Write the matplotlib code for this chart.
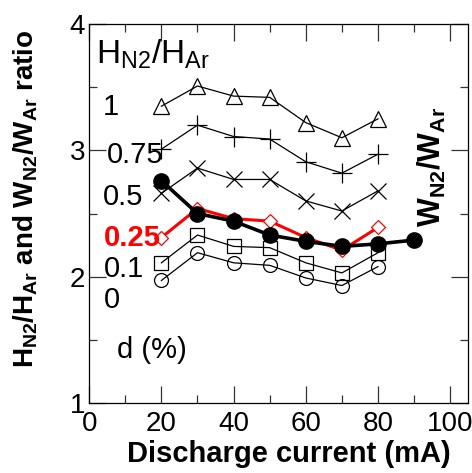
import matplotlib
matplotlib.use("Agg")
import matplotlib.pyplot as plt

plt.rcParams['font.family'] = ['Liberation Sans', 'DejaVu Sans']
plt.rcParams['mathtext.fontset'] = 'custom'
plt.rcParams['mathtext.rm'] = 'Liberation Sans'
plt.rcParams['mathtext.bf'] = 'Liberation Sans:bold'

# discharge current (mA)
current = [20, 30, 40, 50, 60, 70, 80]
current_w = [20, 30, 40, 50, 60, 70, 80, 90]

# H_N2/H_Ar ratio for each d (%)
h_d1 = [3.35, 3.51, 3.43, 3.42, 3.22, 3.10, 3.25]
h_d075 = [3.01, 3.20, 3.11, 3.09, 2.91, 2.82, 2.97]
h_d05 = [2.66, 2.86, 2.77, 2.77, 2.60, 2.52, 2.68]
h_d025 = [2.31, 2.54, 2.46, 2.44, 2.31, 2.21, 2.39]
h_d01 = [2.11, 2.33, 2.24, 2.23, 2.11, 2.03, 2.19]
h_d0 = [1.97, 2.19, 2.11, 2.09, 1.99, 1.93, 2.08]

# W_N2/W_Ar ratio
w_ratio = [2.76, 2.50, 2.44, 2.33, 2.28, 2.24, 2.26, 2.29]

fig = plt.figure(figsize=(4.72, 4.73), dpi=100)
ax = fig.add_axes([0.189, 0.148, 0.803, 0.801])

thin = dict(color='black', lw=0.9, mfc='none', mec='black', mew=0.9)
ax.plot(current, h_d1, marker='^', ms=12, **thin)
ax.plot(current, h_d075, marker='+', ms=14, **thin)
ax.plot(current, h_d05, marker='x', ms=11, **thin)
ax.plot(current, h_d01, marker='s', ms=10, **thin)
ax.plot(current, h_d0, marker='o', ms=10, **thin)
ax.plot(current, h_d025, color='red', lw=2.2, marker='D', ms=7,
        mfc='white', mec='red', mew=0.9)
ax.plot(current_w, w_ratio, color='black', lw=2.6, marker='o', ms=11,
        mfc='black', mec='black')

ax.set_xlim(0, 105)
ax.set_ylim(1, 4)
ax.set_xticks(range(0, 101, 20))
ax.set_xticks(range(10, 101, 20), minor=True)
ax.set_yticks([1, 2, 3, 4])
ax.set_yticks([1.5, 2.5, 3.5], minor=True)
ax.tick_params(which='both', direction='in', top=True, right=True,
               labelsize=20, width=0.9, color='#333333')
ax.tick_params(which='major', length=12, pad=3)
ax.tick_params(axis='x', which='major', pad=6)
ax.tick_params(which='minor', length=6)
for s in ax.spines.values():
    s.set_linewidth(0.9)

ax.text(2.0, 3.69, r'H$_{\mathregular{N2}}$/H$_{\mathregular{Ar}}$',
        fontsize=24, va='baseline', ha='left')
ax.text(3.8, 3.345, '1', fontsize=21, va='center', ha='left')
ax.text(4.9, 2.965, '0.75', fontsize=21, va='center', ha='left')
ax.text(3.8, 2.633, '0.5', fontsize=21, va='center', ha='left')
ax.text(4.1, 2.308, '0.25', fontsize=21, va='center', ha='left',
        color='red', fontweight='bold')
ax.text(4.1, 2.06, '0.1', fontsize=21, va='center', ha='left')
ax.text(4.1, 1.817, '0', fontsize=21, va='center', ha='left')
ax.text(7.7, 1.42, 'd (%)', fontsize=21, va='center', ha='left')
ax.text(95, 2.87, r'$\mathbf{W_{N2}/W_{Ar}}$', fontsize=22, rotation=90,
        va='center', ha='center')

fig.text(0.055, 0.579,
         r'$\mathbf{H_{N2}/H_{Ar}}$ and $\mathbf{W_{N2}/W_{Ar}}$ ratio',
         fontsize=20, fontweight='bold', rotation=90, va='center', ha='center')
fig.text(0.611, 0.040, 'Discharge current (mA)', fontsize=21,
         fontweight='bold', va='center', ha='center')

fig.savefig('out.png', dpi=100)
